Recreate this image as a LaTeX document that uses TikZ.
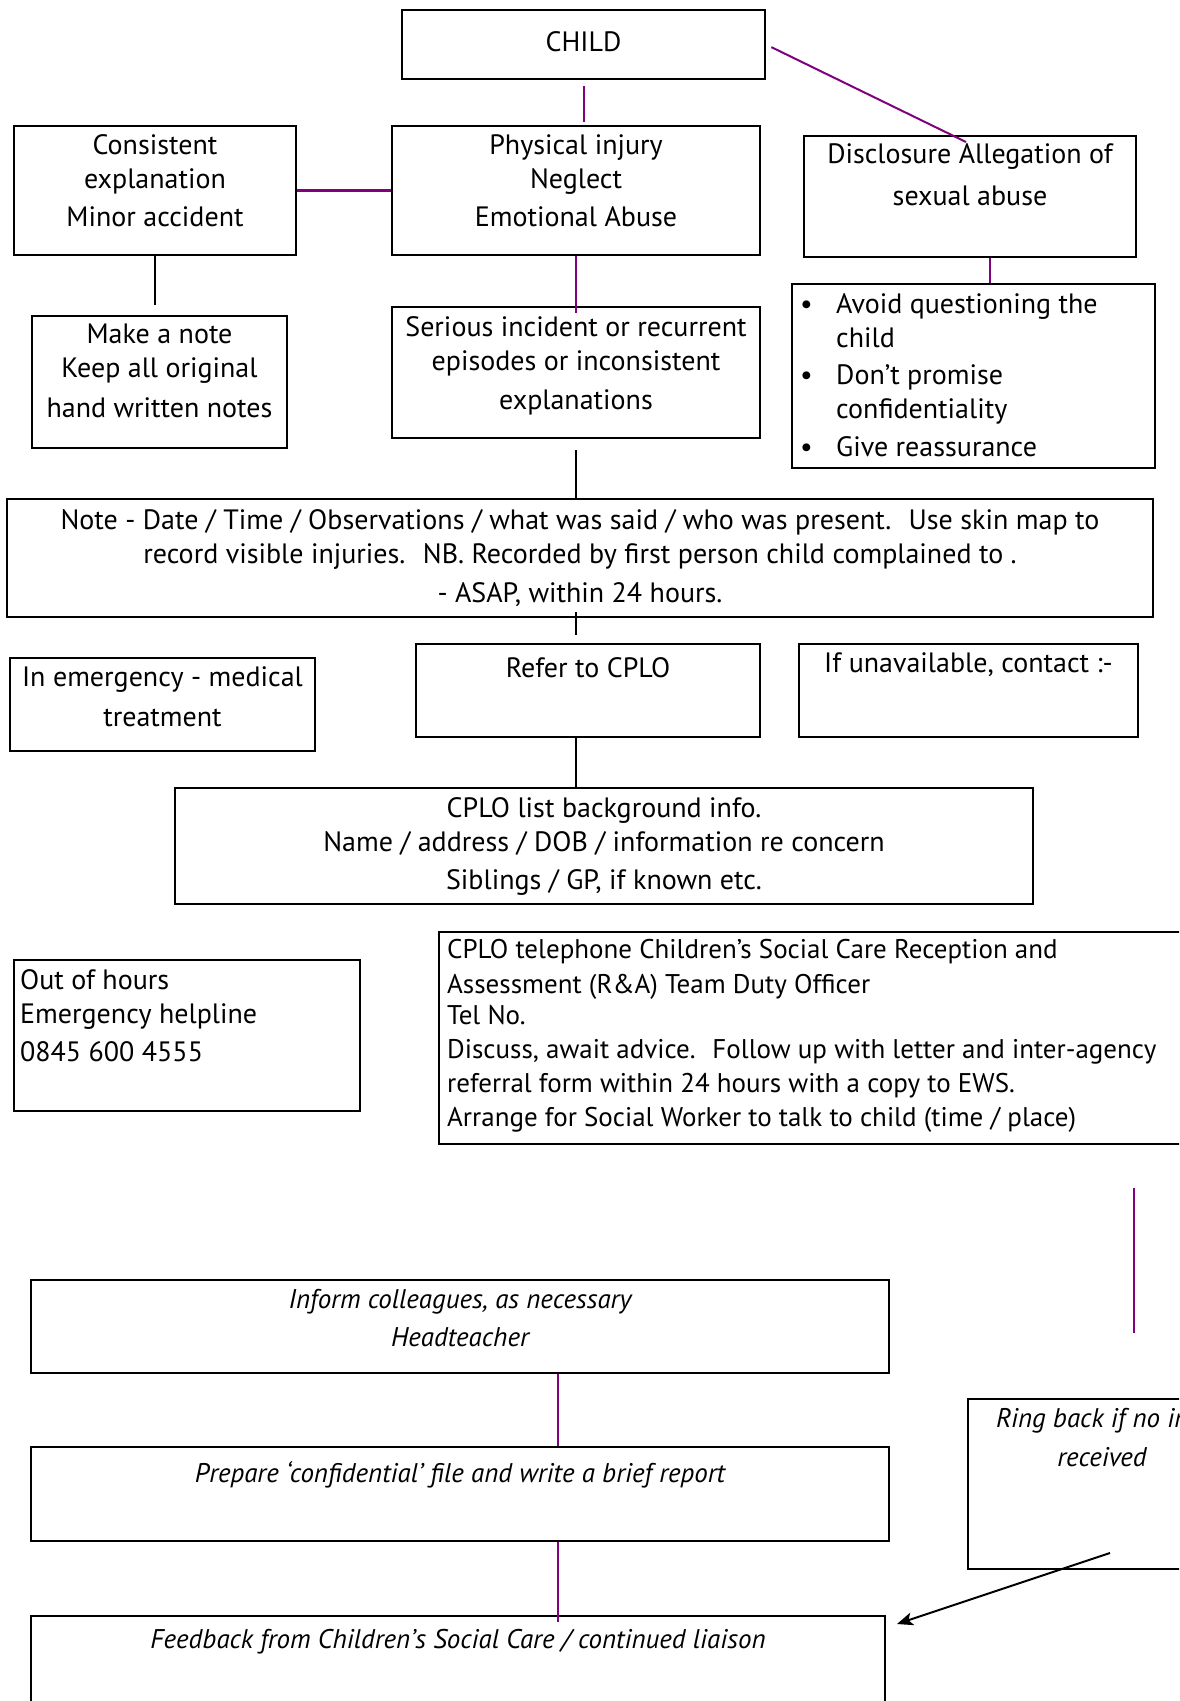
\documentclass[tikz,border=0pt]{standalone}
\usepackage{fontspec}
\setmainfont{PT Sans}
\usepackage{tikz}
\usetikzlibrary{arrows.meta}
\definecolor{lnpurple}{HTML}{800080}

\begin{document}
\begin{tikzpicture}[x=1pt,y=-1pt,
  font=\fontsize{28}{34}\selectfont,
  box/.style={draw,line width=2pt,anchor=north west,inner sep=0pt},
  txt/.style={align=center,inner sep=0pt},
  ltxt/.style={align=left,inner sep=0pt,anchor=north west},
  itx/.style={font=\fontsize{27}{34}\selectfont\itshape},
  pl/.style={lnpurple,line width=2pt},
  plthick/.style={lnpurple,line width=3pt},
  bl/.style={black,line width=1.2pt},
  arw/.style={-{Stealth[length=16pt,width=13pt,inset=4pt]},black,line width=2pt}]
\clip (0,0) rectangle (1179,1701);
% top row
\node[box,minimum width=363,minimum height=69,label={[txt,below=22]north:CHILD}] (child) at (401,9) {};
\node[box,minimum width=282,minimum height=129,label={[txt,below=9]north:Consistent\\explanation\\[4pt]Minor accident}] (cons) at (13,125) {};
\node[box,minimum width=368,minimum height=129,label={[txt,below=9]north:Physical injury\\Neglect\\[4pt]Emotional Abuse}] (phys) at (391,125) {};
\node[box,minimum width=332,minimum height=121,label={[txt,below=8]north:Disclosure Allegation of\\[8pt]sexual abuse}] (disc) at (803,135) {};
% second row
\node[box,minimum width=255,minimum height=132,label={[txt,below=9]north:Make a note\\Keep all original\\[6pt]hand written notes}] (mknote) at (31,315) {};
\node[box,minimum width=368,minimum height=131,label={[txt,below=10]north:Serious incident or recurrent\\episodes or inconsistent\\[5pt]explanations}] (ser) at (391,306) {};
\node[box,minimum width=363,minimum height=184,label={[ltxt,xshift=9,yshift=-6]north west:{%
  \begin{tabular}{@{}l@{}l@{}}
  \makebox[36pt][l]{\textbullet} & Avoid questioning the\\[0pt]
   & child\\[3pt]
  \makebox[36pt][l]{\textbullet} & Don’t promise\\[0pt]
   & confidentiality\\[4pt]
  \makebox[36pt][l]{\textbullet} & Give reassurance
  \end{tabular}}}] (bul) at (791,283) {};
% note
\node[box,minimum width=1146,minimum height=118,label={[txt,below=11]north:Note - Date / Time / Observations / what was said / who was present.~ Use skin map to\\record visible injuries.~ NB. Recorded by first person child complained to .\\[5pt]- ASAP, within 24 hours.}] (note) at (6,498) {};
% refer row
\node[box,minimum width=305,minimum height=93,label={[txt,below=9]north:In emergency - medical\\[6pt]treatment}] (emerg) at (9,657) {};
\node[box,minimum width=344,minimum height=93,label={[txt,below=14]north:Refer to CPLO}] (refer) at (415,643) {};
\node[box,minimum width=339,minimum height=93,label={[txt,below=9]north:If unavailable, contact :-}] (unav) at (798,643) {};
\node[box,minimum width=858,minimum height=116,label={[txt,below=10]north:CPLO list background info.\\Name / address / DOB / information re concern\\[4pt]Siblings / GP, if known etc.}] (list) at (174,787) {};
% telephone row
\node[box,minimum width=346,minimum height=151,label={[ltxt,xshift=7,yshift=-10]north west:Out of hours\\Emergency helpline\\[4pt]0845 600 4555}] (ooh) at (13,959) {};
\node[box,minimum width=780,minimum height=212,label={[ltxt,xshift=9,yshift=-8,font=\fontsize{27}{34}\selectfont]north west:CPLO telephone Children’s Social Care Reception and\\[1pt]Assessment (R\&A) Team Duty Officer\\[-3pt]Tel No.\\Discuss, await advice.~ Follow up with letter and inter-agency\\referral form within 24 hours with a copy to EWS.\\Arrange for Social Worker to talk to child (time / place)}] (tel) at (438,931) {};
% lower column
\node[box,minimum width=858,minimum height=93,label={[txt,itx,below=10]north:Inform colleagues, as necessary\\[4pt]Headteacher}] (inf) at (30,1279) {};
\node[box,minimum width=858,minimum height=94,label={[txt,itx,below=15]north:Prepare ‘confidential’ file and write a brief report}] (prep) at (30,1446) {};
\node[box,minimum width=854,minimum height=120,label={[txt,itx,below=14]north:Feedback from Children’s Social Care / continued liaison}] (feed) at (30,1615) {};
\node[box,minimum width=268,minimum height=170,label={[txt,itx,below=10,xshift=-6]north:Ring back if no in\hphantom{f}\\[5pt]\hspace{12pt}received}] (ring) at (967,1398) {};
\coordinate (rb1) at (1134,1188);
\coordinate (rb2) at (1134,1333);
\coordinate (ringtail) at (1110,1553);
% connectors
\draw[pl,shorten <=6pt,shorten >=3pt] (child.south) -- (child.south |- phys.north);
\draw[plthick] (cons.east) -- (phys.west);
\draw[pl,shorten <=6pt] (child.east) -- ([shift={(-4,7)}]disc.north);
\draw[bl,shorten >=10pt] (cons.south) -- (cons.south |- mknote.north);
\draw[pl,shorten >=-7pt] (phys.south) -- (phys.south |- ser.north);
\draw[pl] ([shift={(20,0)}]disc.south) -- ([shift={(20,0)}]disc.south |- bul.north);
\draw[bl,shorten <=11pt] (ser.south) -- (ser.south |- note.north);
\draw[bl,shorten <=-6pt,shorten >=8pt] (note.south -| ser.south) -- (ser.south |- refer.north);
\draw[bl] (ser.south |- refer.south) -- (ser.south |- list.north);
\draw[pl] (rb1) -- (rb2);
\draw[pl] ([shift={(98,0)}]inf.south) -- ([shift={(98,0)}]inf.south |- prep.north);
\draw[pl,shorten >=-7pt] ([shift={(98,0)}]prep.south) -- ([shift={(98,0)}]prep.south |- feed.north);
\draw[arw] (ringtail) -- ([shift={(11,9)}]feed.north east);
\end{tikzpicture}
\end{document}
